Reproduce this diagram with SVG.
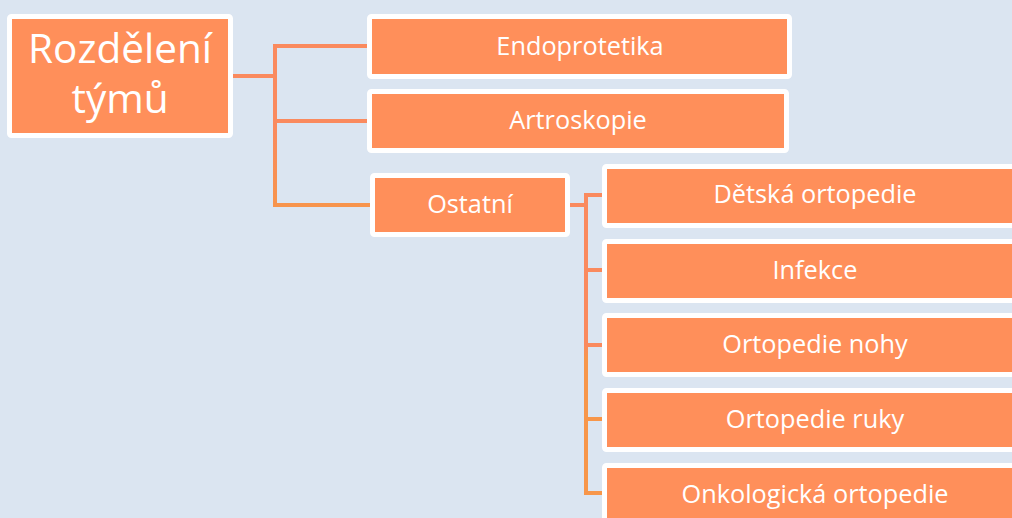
<svg xmlns="http://www.w3.org/2000/svg" width="1012" height="518" viewBox="0 0 1012 518">
<style>
.box{fill:#ff8f5a;stroke:#ffffff;stroke-width:5}
.t{fill:#ffffff;font-family:"Open Sans","Liberation Sans",sans-serif;font-size:25.3px;text-anchor:middle}
.big{font-size:40.5px}
.c{fill:none;stroke-width:4;stroke-linecap:square;stroke-linejoin:miter}
</style>
<defs>
<linearGradient id="g1" gradientUnits="userSpaceOnUse" x1="0" y1="46" x2="0" y2="206">
<stop offset="0" stop-color="#fa8a5e"/><stop offset="0.5" stop-color="#fa8a5e"/><stop offset="1" stop-color="#f7944c"/>
</linearGradient>
<linearGradient id="g2" gradientUnits="userSpaceOnUse" x1="0" y1="195" x2="0" y2="493">
<stop offset="0" stop-color="#fa8a5e"/><stop offset="0.5" stop-color="#fa8a5e"/><stop offset="0.55" stop-color="#f7964a"/><stop offset="1" stop-color="#f7964a"/>
</linearGradient>
</defs>
<rect width="1012" height="518" fill="#dbe5f1"/>
<g id="connectors">
<path class="c" stroke="#fa8a5e" d="M233,76 H275"/>
<path class="c" stroke="url(#g1)" d="M367,46 H275 V205 H370"/>
<path class="c" stroke="#fa8a5e" d="M275,121 H367"/>
<path class="c" stroke="#fa8a5e" d="M570,205 H586"/>
<path class="c" stroke="url(#g2)" d="M602,195 H586 V493 H602"/>
<path class="c" stroke="#fa8a5e" d="M586,270 H602"/>
<path class="c" stroke="#fa8a5e" d="M586,345 H602"/>
<path class="c" stroke="#f7964a" d="M586,419 H602"/>
</g>
<g id="root">
<rect class="box" x="9.5" y="16.5" width="221" height="119" rx="2"/>
<text class="t big" x="120" y="63">Rozdělení</text>
<text class="t big" x="120" y="113">týmů</text>
</g>
<g id="endoprotetika">
<rect class="box" x="369.5" y="16.5" width="420" height="60" rx="2"/>
<text class="t" x="580" y="55">Endoprotetika</text>
</g>
<g id="artroskopie">
<rect class="box" x="369.5" y="91.5" width="417" height="59" rx="2"/>
<text class="t" x="578" y="129">Artroskopie</text>
</g>
<g id="ostatni">
<rect class="box" x="372.5" y="175.5" width="195" height="59" rx="2"/>
<text class="t" x="470" y="213">Ostatní</text>
</g>
<g id="detska">
<rect class="box" x="604.5" y="166.5" width="421" height="59" rx="2"/>
<text class="t" x="815" y="203">Dětská ortopedie</text>
</g>
<g id="infekce">
<rect class="box" x="604.5" y="241.5" width="421" height="59" rx="2"/>
<text class="t" x="815" y="279">Infekce</text>
</g>
<g id="nohy">
<rect class="box" x="604.5" y="315.5" width="421" height="59" rx="2"/>
<text class="t" x="815" y="353">Ortopedie nohy</text>
</g>
<g id="ruky">
<rect class="box" x="604.5" y="390.5" width="421" height="59" rx="2"/>
<text class="t" x="815" y="428">Ortopedie ruky</text>
</g>
<g id="onkologicka">
<rect class="box" x="604.5" y="465.5" width="421" height="59" rx="2"/>
<text class="t" x="815" y="503">Onkologická ortopedie</text>
</g>
</svg>
